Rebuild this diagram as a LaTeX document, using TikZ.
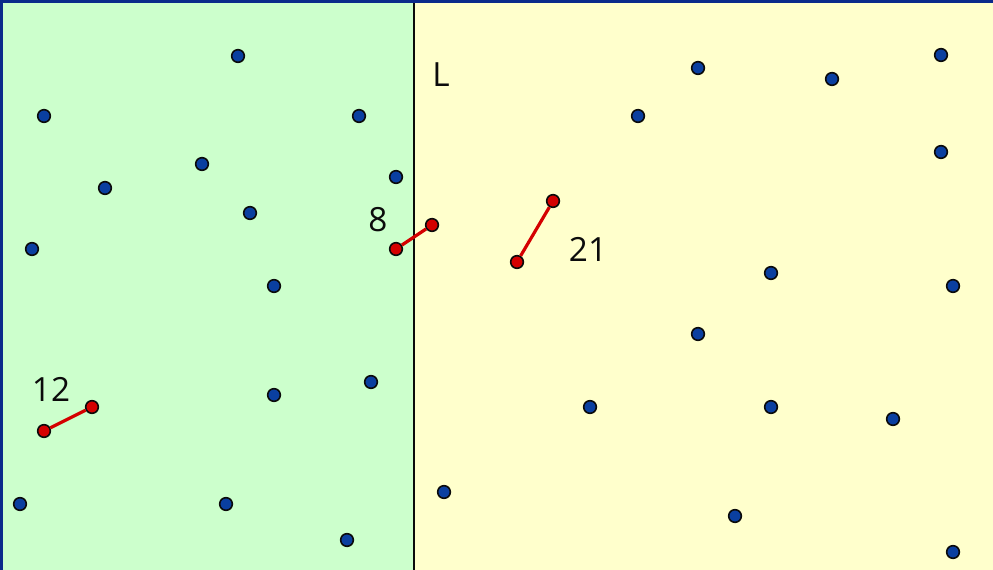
\documentclass[tikz,border=0pt]{standalone}
\usepackage{fontspec}
\setmainfont{Open Sans}
\usetikzlibrary{positioning}
\definecolor{zoneA}{HTML}{CCFFCC}
\definecolor{zoneB}{HTML}{FFFFCC}
\definecolor{frame}{HTML}{0A2A8A}
\definecolor{site}{HTML}{0A3FA0}
\definecolor{pair}{HTML}{D40000}
\definecolor{ink}{HTML}{0B0B0B}

\begin{document}
\begin{tikzpicture}[
    x=0.75pt,y=-0.75pt,
    font=\fontsize{25}{27}\selectfont,
    dot/.style={circle,draw=ink,line width=1.2pt,fill=site,
        minimum size=9.5pt,inner sep=0pt},
    hot/.style={dot,fill=pair},
    bond/.style={pair,line width=2.4pt},
    tag/.style={ink,inner sep=0pt},
  ]

  % ============================================================= ZONES
  \useasboundingbox (0,0) rectangle (993,570);
  \fill[zoneA] (0,0) rectangle (414,570);
  \fill[zoneB] (414,0) rectangle (993,570);
  \draw[ink,line width=1.5pt] (414,0) -- (414,570);
  \draw[frame,line width=4pt] (0,570) -- (0,0) -- (993,0);

  % ============================================================= SITES
  % left (green) half
  \foreach \px/\py [count=\i] in {238/56, 44/116, 359/116, 202/164, 105/188,
      396/177, 250/213, 32/249, 274/286, 371/382, 274/395, 20/504,
      226/504, 347/540}{
    \node[dot] (l\i) at (\px,\py){};
  }
  % right (yellow) half
  \foreach \px/\py [count=\i] in {698/68, 832/79, 941/55, 638/116, 941/152,
      771/273, 953/286, 698/334, 590/407, 771/407, 893/419, 444/492,
      735/516, 953/552}{
    \node[dot] (r\i) at (\px,\py){};
  }

  % ============================================================= PAIRS
  \foreach \nm/\ax/\ay/\bx/\by in {p8/396/249/432/225, p12/44/431/92/407,
      p21/517/262/553/201}{
    \node[hot] (\nm a) at (\ax,\ay){};
    \node[hot] (\nm b) at (\bx,\by){};
    \draw[bond] (\nm a) -- (\nm b);
  }

  % ============================================================= LABELS
  \node[tag] (n8) at (378,220){8};
  \node[tag] (n12) at (51,389){12};
  \node[tag] (n21) at (588,249){21};
  \node[tag] (nL) at (441,75){L};

\end{tikzpicture}
\end{document}
